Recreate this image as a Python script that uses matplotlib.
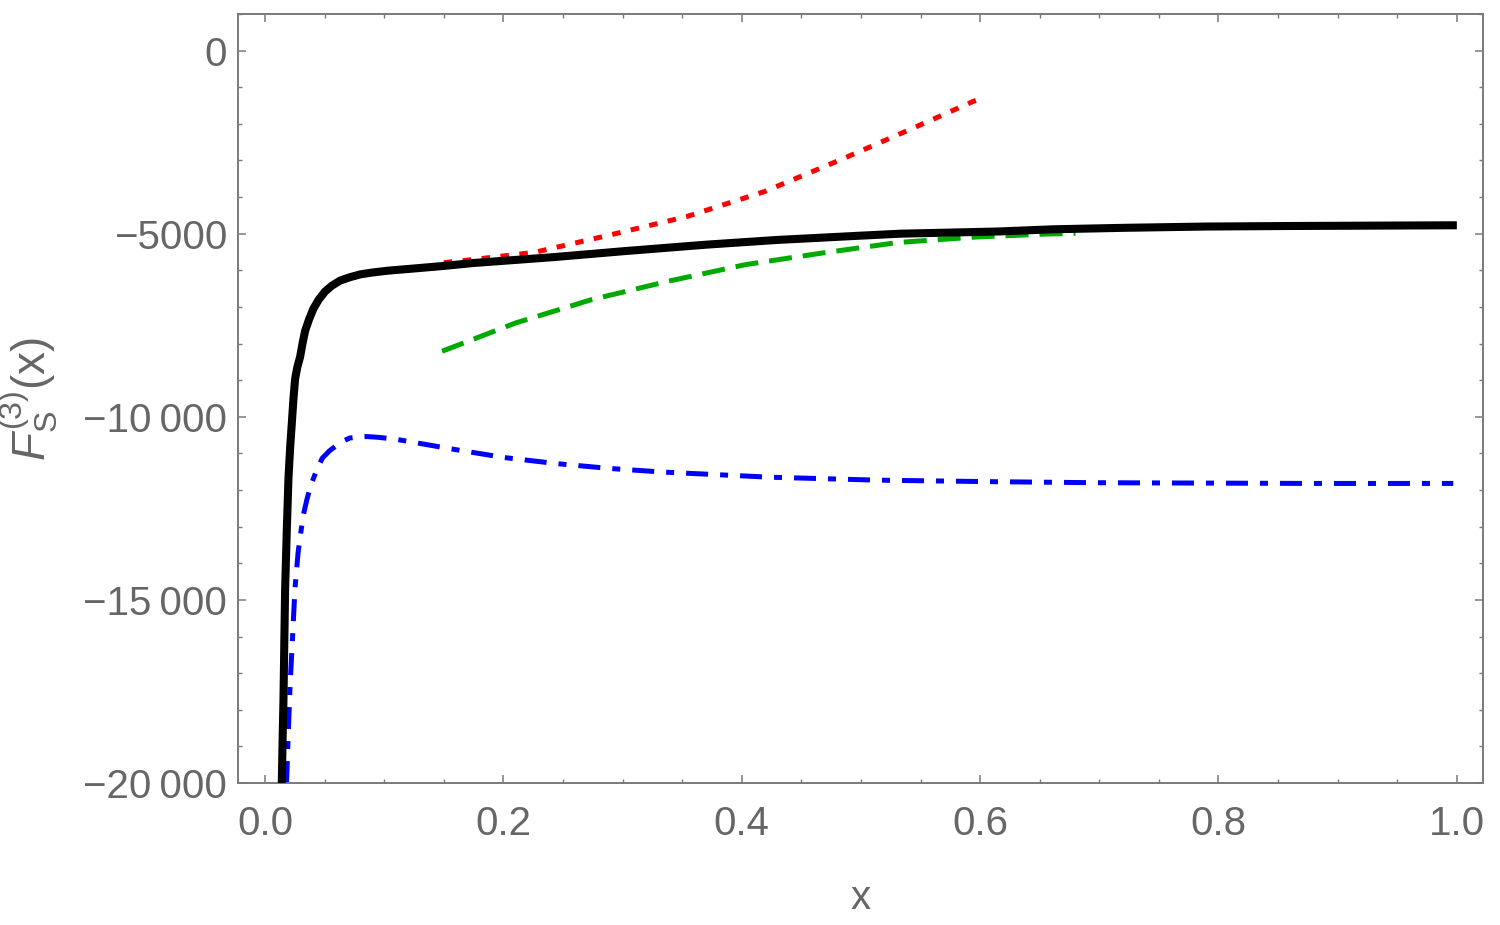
import matplotlib
matplotlib.use("Agg")
import matplotlib.pyplot as plt
from matplotlib.ticker import FixedLocator, MultipleLocator

# ---- data ----
black_x = [0.0140, 0.0147, 0.0154, 0.0161, 0.0168, 0.0182, 0.0196, 0.0210, 0.0224,
           0.0238, 0.0252, 0.0270, 0.0294, 0.0315, 0.0336, 0.0370, 0.0405, 0.0450,
           0.0503, 0.0560, 0.0630, 0.0710, 0.0800, 0.0900, 0.103, 0.125, 0.150,
           0.175, 0.242, 0.300, 0.370, 0.430, 0.499, 0.533, 0.615, 0.661, 0.720,
           0.789, 0.860, 0.930, 1.000]
black_y = [-20000, -18800, -17740, -16200, -14710, -13100, -11680, -10850, -10180,
           -9500, -8960, -8650, -8360, -7980, -7650, -7330, -7050, -6800,
           -6580, -6420, -6280, -6190, -6110, -6060, -6010, -5950, -5880,
           -5800, -5640, -5480, -5300, -5170, -5055, -5000, -4940, -4880, -4840,
           -4805, -4790, -4780, -4770]

blue_x = [0.0180, 0.0195, 0.0210, 0.0227, 0.0250, 0.0277, 0.0300, 0.0320, 0.0350,
          0.0380, 0.0430, 0.0480, 0.0540, 0.0600, 0.0650, 0.0710, 0.0780, 0.0856,
          0.0950, 0.111, 0.155, 0.200, 0.245, 0.289, 0.334, 0.424, 0.514, 0.606,
          0.697, 0.788, 0.879, 0.997]
blue_y = [-20000, -18600, -17300, -16230, -14720, -13700, -13150, -12690, -12270,
          -11900, -11480, -11130, -10930, -10780, -10670, -10580, -10550, -10540,
          -10560, -10620, -10870, -11110, -11280, -11410, -11510, -11650, -11730, -11770,
          -11800, -11810, -11820, -11820]

green_x = [0.1485, 0.210, 0.274, 0.338, 0.403, 0.467, 0.531, 0.597, 0.655, 0.680]
green_y = [-8210, -7440, -6800, -6300, -5845, -5530, -5240, -5090, -5010, -4990]

red_x = [0.150, 0.161, 0.226, 0.290, 0.354, 0.419, 0.483, 0.547, 0.594, 0.600]
red_y = [-5790, -5755, -5510, -5030, -4530, -3850, -2980, -2070, -1390, -1320]

x_ticks = [0.0, 0.2, 0.4, 0.6, 0.8, 1.0]
x_tick_labels = ["0.0", "0.2", "0.4", "0.6", "0.8", "1.0"]
y_ticks = [-20000, -15000, -10000, -5000, 0]
y_tick_labels = ["\u221220\u2009000", "\u221215\u2009000", "\u221210\u2009000", "\u22125000", "0"]

x_label = "x"
y_label = r"$F_{\mathrm{S}}^{(3)}(\mathrm{x})$"

# ---- style ----
plt.rcParams["font.family"] = ["Liberation Sans", "DejaVu Sans"]
plt.rcParams["mathtext.fontset"] = "custom"
plt.rcParams["mathtext.rm"] = "Liberation Sans"
plt.rcParams["mathtext.it"] = "Liberation Sans:italic"
plt.rcParams["mathtext.bf"] = "Liberation Sans:bold"

txt_col = "#666666"
spine_col = "#7a7a7a"

fig = plt.figure(figsize=(15, 9.25), dpi=100)
ax = fig.add_axes([0.1587, 0.1535, 0.83, 0.8314])

ax.plot(black_x, black_y, color="black", lw=5.8, solid_capstyle="butt",
        solid_joinstyle="round", zorder=3)
ax.plot(red_x, red_y, color="#ff0000", lw=3.6, dashes=(1.7, 2.1), zorder=2)
ax.plot(green_x, green_y, color="#00aa00", lw=3.6, dashes=(4.6, 2.2), zorder=2)
ax.plot(blue_x, blue_y, color="#0000ff", lw=3.6, dashes=(4.4, 2.4, 1.6, 2.4), zorder=2)

ax.set_xlim(-0.0227, 1.022)
ax.set_ylim(-20000, 1000)

ax.xaxis.set_major_locator(FixedLocator(x_ticks))
ax.set_xticklabels(x_tick_labels)
ax.xaxis.set_minor_locator(MultipleLocator(0.05))
ax.yaxis.set_major_locator(FixedLocator(y_ticks))
ax.set_yticklabels(y_tick_labels)
ax.yaxis.set_minor_locator(MultipleLocator(1000))

ax.tick_params(which="both", direction="in", top=True, right=True,
               color=spine_col, labelcolor=txt_col, labelsize=29)
ax.tick_params(which="major", length=5.5, width=1.1)
ax.tick_params(which="minor", length=3.2, width=1.0)
ax.tick_params(axis="x", which="major", pad=16)
ax.tick_params(axis="y", which="major", pad=8)

for s in ax.spines.values():
    s.set_color(spine_col)
    s.set_linewidth(1.4)

ax.set_xlabel(x_label, fontsize=29, color=txt_col)
ax.xaxis.set_label_coords(0.5, -0.125)
ax.set_ylabel(y_label, fontsize=33, color=txt_col)
ax.yaxis.set_label_coords(-0.143, 0.5)

fig.savefig("out.png", dpi=100)
